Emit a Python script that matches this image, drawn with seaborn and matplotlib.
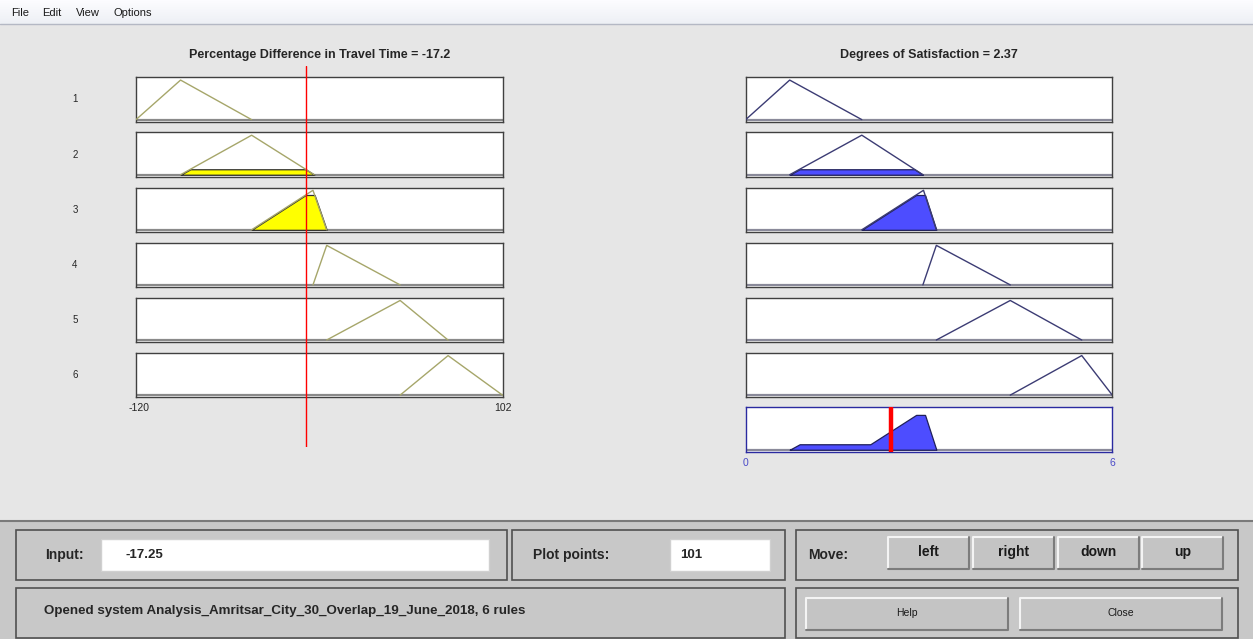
import numpy as np
import pandas as pd
import seaborn as sns
import matplotlib
matplotlib.use("Agg")
import matplotlib.pyplot as plt
from matplotlib.patches import Rectangle

# ---------------- data ----------------
input_name = "Percentage Difference in Travel Time"
output_name = "Degrees of Satisfaction"
input_range = [-120, 102]
output_range = [0, 6]
input_value = -17.25
output_value = 2.37
plot_points = 101
rule_labels = ["1", "2", "3", "4", "5", "6"]

# triangular membership functions [left foot, peak, right foot]
input_mfs = [
    [-120, -93, -50],
    [-93, -50, -12],
    [-50, -12.8, -4.5],
    [-12.8, -4.5, 40],
    [-4.5, 40, 69],
    [40, 69, 102],
]
output_mfs = [
    [0, 0.72, 1.9],
    [0.72, 1.9, 2.9],
    [1.9, 2.91, 3.12],
    [2.9, 3.12, 4.33],
    [3.12, 4.33, 5.5],
    [4.33, 5.5, 6],
]

menu_items = ["File", "Edit", "View", "Options"]
move_buttons = ["left", "right", "down", "up"]
status_text = "Opened system Analysis_Amritsar_City_30_Overlap_19_June_2018, 6 rules"

# ---------------- style ----------------
sns.set_theme(style="white")
plt.rcParams["font.family"] = ["Liberation Sans", "DejaVu Sans"]

W, H = 1253, 639
DPI = 100
BG = "#e6e6e6"
PANEL = "#c8c8c8"
FRAME = "#404040"
IN_LINE = "#a6a66a"
OUT_LINE = "#3c3c74"
YELLOW = "#ffff00"
BLUE = "#4d4dff"
AGG_FRAME = "#2a2aa0"

fig = plt.figure(figsize=(W / DPI, H / DPI), dpi=DPI, facecolor=BG)


def px_rect(x0, y0, x1, y1):
    return [x0 / W, 1 - y1 / H, (x1 - x0) / W, (y1 - y0) / H]


def tri(x, p):
    a, b, c = p
    return np.interp(x, [a, b, c], [0.0, 1.0, 0.0], left=0.0, right=0.0)


def support(x, p):
    """Grid points covering one membership function's support, vertices included."""
    a, b, c = p
    xs = x[(x > a) & (x < c)]
    return np.union1d(xs, [a, b, c])


# ---------------- window background and widgets ----------------
bg = fig.add_axes([0, 0, 1, 1], zorder=0)
bg.set_xlim(0, W)
bg.set_ylim(H, 0)
bg.axis("off")

# menu bar
grad = np.linspace(0, 1, 24)[:, None]
menu_cols = np.ones((24, 2, 3))
top_c = np.array([0.99, 0.99, 1.0])
bot_c = np.array([0.93, 0.94, 0.96])
menu_cols[:] = (top_c * (1 - grad) + bot_c * grad)[:, None, :]
bg.imshow(menu_cols, extent=[0, W, 24, 0], aspect="auto", zorder=1)
bg.plot([0, W], [24, 24], color="#b4b8c4", lw=1, zorder=2)
for label, x in zip(menu_items, [11, 42, 76, 114]):
    bg.text(x, 13, label, fontsize=8, va="center", ha="left", color="#1a1a1a", zorder=3)

# lower control panel
bg.add_patch(Rectangle((0, 521), W, H - 521, facecolor=PANEL, edgecolor="none", zorder=1))
bg.plot([0, W], [521, 521], color="#7a7a7a", lw=1.5, zorder=2)


def box(x0, y0, x1, y1, face=PANEL):
    bg.add_patch(Rectangle((x0, y0), x1 - x0, y1 - y0, facecolor=face,
                           edgecolor="#505050", lw=1.2, zorder=2))


def field(x0, y0, x1, y1):
    bg.add_patch(Rectangle((x0, y0), x1 - x0, y1 - y0, facecolor="white",
                           edgecolor="#d0d0d0", lw=1, zorder=3))


def button(x0, y0, x1, y1, label, size, weight):
    bg.add_patch(Rectangle((x0, y0), x1 - x0, y1 - y0, facecolor="#c4c4c4",
                           edgecolor="none", zorder=3))
    bg.plot([x0, x0, x1], [y1, y0, y0], color="#f4f4f4", lw=1.5, zorder=4)
    bg.plot([x0, x1, x1], [y1, y1, y0], color="#7c7c7c", lw=1.5, zorder=4)
    bg.text((x0 + x1) / 2, (y0 + y1) / 2 - 1, label, fontsize=size, fontweight=weight,
            ha="center", va="center", color="#1a1a1a", zorder=5)


LABEL_FS = 10
box(16, 530, 507, 580)
field(101, 539, 489, 571)
bg.text(45, 555, "Input:", fontsize=LABEL_FS, fontweight="bold", va="center", zorder=5)
bg.text(126, 555, f"{input_value:.2f}", fontsize=9.5, fontweight="bold", va="center", zorder=5)

box(512, 530, 785, 580)
field(670, 539, 770, 571)
bg.text(533, 555, "Plot points:", fontsize=LABEL_FS, fontweight="bold", va="center", zorder=5)
bg.text(680, 555, str(plot_points), fontsize=9.5, fontweight="bold", va="center", zorder=5)

box(796, 530, 1238, 580)
bg.text(808, 555, "Move:", fontsize=LABEL_FS, fontweight="bold", va="center", zorder=5)
for label, (x0, x1) in zip(move_buttons, [(888, 969), (973, 1054), (1058, 1139), (1142, 1223)]):
    button(x0, 537, x1, 569, label, 10, "bold")

box(16, 588, 785, 638)
bg.text(44, 611, status_text, fontsize=9.6, fontweight="bold", va="center", zorder=5)

box(796, 588, 1238, 638)
button(806, 598, 1008, 630, "Help", 7.5, "normal")
button(1020, 598, 1222, 630, "Close", 7.5, "normal")

# ---------------- rule plots ----------------
x_in = np.linspace(input_range[0], input_range[1], 2001)
x_out = np.linspace(output_range[0], output_range[1], 2001)
YLIM = (-0.05, 1.07)

IN_X0, IN_X1 = 136, 502.5
OUT_X0, OUT_X1 = 745.7, 1112.3
ROW_TOP0, ROW_STEP, ROW_H = 77.3, 55.1, 44.3

degrees = [float(tri(np.array([input_value]), p)[0]) for p in input_mfs]


def style_axes(ax, frame_color):
    ax.set_xticks([])
    ax.set_yticks([])
    ax.set_facecolor("white")
    for s in ax.spines.values():
        s.set_visible(True)
        s.set_color(frame_color)
        s.set_linewidth(1.0)


def draw_mf(ax, x, p, deg, line_color, fill_color, edge_color, rng, base_color):
    ax.plot(rng, [0, 0], color=base_color, lw=1.6, zorder=1)
    xs = support(x, p)
    mf = tri(xs, p)
    if deg > 0:
        ax.fill_between(xs, 0, np.minimum(mf, deg), facecolor=fill_color,
                        edgecolor=edge_color, lw=0.9, zorder=2)
    sns.lineplot(x=xs, y=mf, ax=ax, color=line_color, lw=1.0, zorder=3)
    ax.set_xlim(rng)
    ax.set_ylim(YLIM)


clipped_out = []
for i, (pin, pout, deg) in enumerate(zip(input_mfs, output_mfs, degrees)):
    top = ROW_TOP0 + ROW_STEP * i
    # input membership function
    ax = fig.add_axes(px_rect(IN_X0, top, IN_X1, top + ROW_H), zorder=2)
    draw_mf(ax, x_in, pin, deg, IN_LINE, YELLOW, "#303030", input_range, "#8a8a8a")
    style_axes(ax, FRAME)
    bg.text(75, top + ROW_H / 2, rule_labels[i], fontsize=7, ha="center", va="center", zorder=5)

    # output membership function
    ax = fig.add_axes(px_rect(OUT_X0, top, OUT_X1, top + ROW_H), zorder=2)
    draw_mf(ax, x_out, pout, deg, OUT_LINE, BLUE, "#20205a", output_range, "#8a8a9a")
    style_axes(ax, FRAME)
    clipped_out.append(np.minimum(tri(x_out, pout), deg))

# aggregated output
agg = np.max(np.vstack(clipped_out), axis=0)
nz = np.nonzero(agg > 0)[0]
lo, hi = max(nz[0] - 1, 0), min(nz[-1] + 1, len(agg) - 1)
agg_top = ROW_TOP0 + ROW_STEP * 6 - 0.5
ax_agg = fig.add_axes(px_rect(OUT_X0, agg_top, OUT_X1, agg_top + ROW_H), zorder=2)
ax_agg.plot(output_range, [0, 0], color="#8a8a9a", lw=1.6, zorder=1)
ax_agg.fill_between(x_out[lo:hi + 1], 0, agg[lo:hi + 1], facecolor=BLUE,
                    edgecolor="#20205a", lw=0.9, zorder=2)
ax_agg.axvline(output_value, color="#ff0000", lw=3.2, zorder=4)
ax_agg.set_xlim(output_range)
ax_agg.set_ylim(YLIM)
style_axes(ax_agg, AGG_FRAME)

# input cursor spanning all input rows
ax_cur = fig.add_axes(px_rect(IN_X0, 66, IN_X1, 447), zorder=4)
ax_cur.axvline(input_value, color="#ff0000", lw=1.0)
ax_cur.set_xlim(input_range)
ax_cur.set_ylim(0, 1)
ax_cur.axis("off")

# titles and range labels
bg.text((IN_X0 + IN_X1) / 2, 55, f"{input_name} = {input_value:.1f}", fontsize=9,
        fontweight="bold", ha="center", va="center", zorder=5)
bg.text((OUT_X0 + OUT_X1) / 2, 55, f"{output_name} = {output_value:.2f}", fontsize=9,
        fontweight="bold", ha="center", va="center", zorder=5)
bg.text(IN_X0 + 3, 408, f"{input_range[0]}", fontsize=7.5, ha="center", va="center", zorder=5)
bg.text(IN_X1, 408, f"{input_range[1]}", fontsize=7.5, ha="center", va="center", zorder=5)
bg.text(OUT_X0, 463, f"{output_range[0]}", fontsize=7.5, ha="center", va="center",
        color="#4a4ac8", zorder=5)
bg.text(OUT_X1, 463, f"{output_range[1]}", fontsize=7.5, ha="center", va="center",
        color="#4a4ac8", zorder=5)

fig.savefig("out.png", dpi=DPI, facecolor=BG)
